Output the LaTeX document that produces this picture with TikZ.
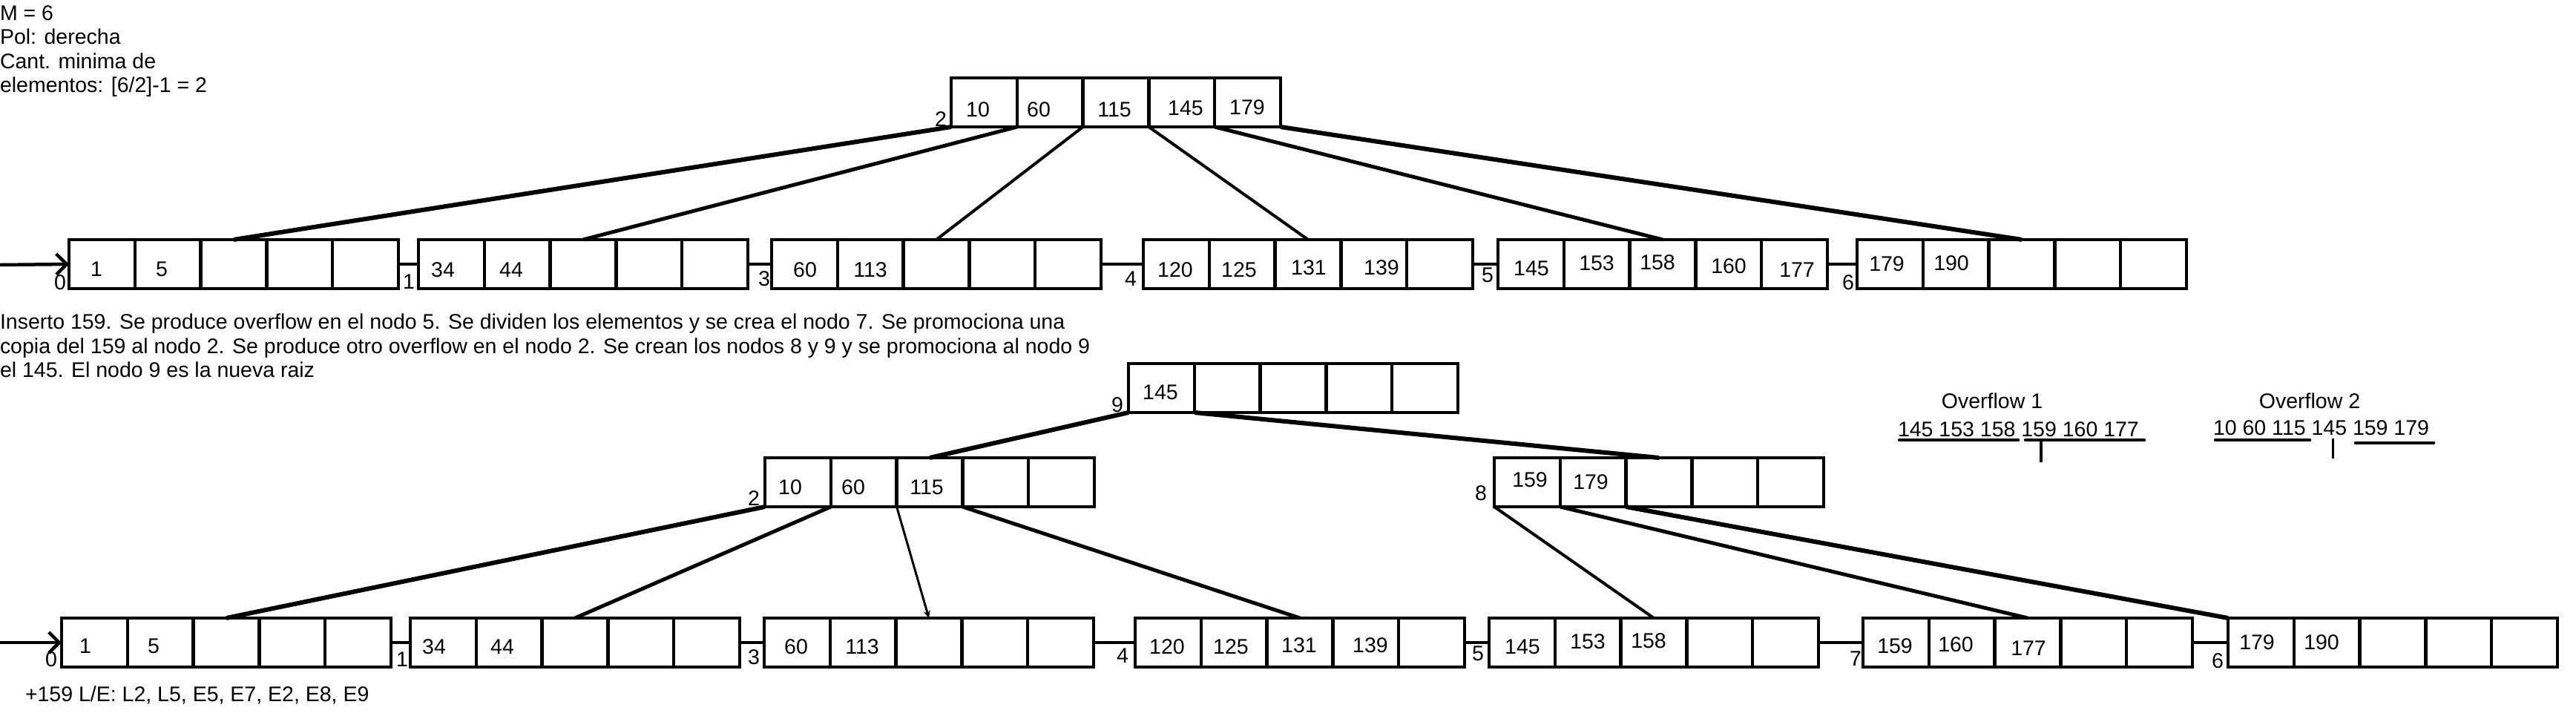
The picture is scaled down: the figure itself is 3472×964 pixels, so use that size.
\documentclass[tikz,border=0pt]{standalone}
\usepackage{fontspec}
\setmainfont{Liberation Sans}
\usetikzlibrary{arrows.meta,calc}
\tikzset{
  bbox/.style={draw, line width=4.6pt, minimum width=444pt, minimum height=66pt, inner sep=0pt, outer sep=0pt, anchor=north west},
  txt/.style={inner sep=0pt, outer sep=0pt, font=\fontsize{28.5pt}{33pt}\selectfont},
  divider/.style={line width=4.3pt},
  link/.style={line width=4.5pt},
  entry/.style={line width=4.5pt, -{Straight Barb[length=14pt,width=28pt]}},
  edgeA/.style={line width=6pt},
  edgeB/.style={line width=5pt},
  edgeC/.style={line width=4pt},
  edgeD/.style={line width=3pt},
  bar/.style={line width=4.5pt, line cap=round},
}
\newcommand{\btnode}[3]{%
  \node[bbox] (#1) at (#2,#3) {};
  \foreach \k in {1,2,3,4}{\draw[divider] ($(#1.north west)+(\k*88.8,0)$) -- ($(#1.south west)+(\k*88.8,0)$);}%
}
\newcommand{\val}[4]{\node[txt, anchor=base] (#1) at (#2,#3) {#4};}
\newcommand{\lft}[4]{\node[txt, anchor=base west] (#1) at (#2,#3) {#4};}
\begin{document}
\begin{tikzpicture}[x=1pt, y=-1pt]
\fill[white] (0,0) rectangle (3472,964);
\useasboundingbox (0,0) rectangle (3472,964);

% ---------- header text ----------
\lft{i1}{0}{27}{M = 6}
\lft{i2}{0}{59}{Pol: derecha}
\lft{i3}{0}{92}{Cant. minima de}
\lft{i4}{0}{124}{elementos: [6/2]-1 = 2}

% ---------- top tree ----------
\btnode{r}{1282}{105}
\btnode{n0}{93}{323}
\btnode{n1}{564}{323}
\btnode{n3}{1040}{323}
\btnode{n4}{1541}{323}
\btnode{n5}{2019}{323}
\btnode{n6}{2503}{323}

\val{r1}{1318}{157}{10}
\val{r2}{1400}{157}{60}
\val{r3}{1502}{157}{115}
\val{r4}{1598}{155}{145}
\val{r5}{1681}{154}{179}
\val{rl}{1268}{170}{2}

\val{n0a}{130}{372}{1}
\val{n0b}{218}{372}{5}
\val{n0l}{81}{390}{0}
\val{n1a}{597}{373}{34}
\val{n1b}{689}{373}{44}
\val{n1l}{551}{389}{1}
\val{n3a}{1085}{373}{60}
\val{n3b}{1173}{373}{113}
\val{n3l}{1030}{385}{3}
\val{n4a}{1584}{373}{120}
\val{n4b}{1670}{373}{125}
\val{n4c}{1764}{370}{131}
\val{n4d}{1862}{370}{139}
\val{n4l}{1524}{385}{4}
\val{n5a}{2064}{371}{145}
\val{n5b}{2152}{364}{153}
\val{n5c}{2234}{363}{158}
\val{n5d}{2330}{368}{160}
\val{n5e}{2422}{373}{177}
\val{n5l}{2005}{380}{5}
\val{n6a}{2543}{365}{179}
\val{n6b}{2630}{364}{190}
\val{n6l}{2491}{390}{6}

\coordinate (in0) at (0,357);
\draw[entry] (in0) -- (n0.west);
\draw[link] (n0.east) -- (n1.west);
\draw[link] (n1.east) -- (n3.west);
\draw[link] (n3.east) -- (n4.west);
\draw[link] (n4.east) -- (n5.west);
\draw[link] (n5.east) -- (n6.west);

\draw[edgeA] (r.south west) -- (n0.north);
\draw[edgeB] ($(r.south west)+(88.8,0)$) -- (n1.north);
\draw[edgeC] ($(r.south west)+(177.6,0)$) -- (n3.north);
\draw[edgeC] ($(r.south west)+(266.4,0)$) -- (n4.north);
\draw[edgeB] ($(r.south west)+(355.2,0)$) -- (n5.north);
\draw[edgeA] (r.south east) -- (n6.north);

% ---------- explanation ----------
\lft{p1}{0}{443}{Inserto 159. Se produce overflow en el nodo 5. Se dividen los elementos y se crea el nodo 7. Se promociona una}
\lft{p2}{0}{476}{copia del 159 al nodo 2. Se produce otro overflow en el nodo 2. Se crean los nodos 8 y 9 y se promociona al nodo 9}
\lft{p3}{0}{508}{el 145. El nodo 9 es la nueva raiz}

% ---------- bottom tree ----------
\btnode{r9}{1521}{490}
\btnode{m2}{1031}{617}
\btnode{m8}{2014}{617}
\btnode{b0}{83}{833}
\btnode{b1}{553}{833}
\btnode{b3}{1030}{833}
\btnode{b4}{1530}{833}
\btnode{b5}{2007}{833}
\btnode{b7}{2511}{833}
\btnode{b6}{3003}{833}

\val{r9a}{1564}{538}{145}
\val{r9l}{1506}{555}{9}
\val{m2a}{1065}{666}{10}
\val{m2b}{1150}{666}{60}
\val{m2c}{1249}{666}{115}
\val{m2l}{1016}{681}{2}
\val{m8a}{2062}{656}{159}
\val{m8b}{2144}{659}{179}
\val{m8l}{1996}{674}{8}

\val{b0a}{115}{880}{1}
\val{b0b}{207}{880}{5}
\val{b0l}{69}{898}{0}
\val{b1a}{585}{881}{34}
\val{b1b}{677}{881}{44}
\val{b1l}{542}{898}{1}
\val{b3a}{1073}{881}{60}
\val{b3b}{1162}{881}{113}
\val{b3l}{1016}{895}{3}
\val{b4a}{1573}{881}{120}
\val{b4b}{1659}{881}{125}
\val{b4c}{1751}{879}{131}
\val{b4d}{1847}{879}{139}
\val{b4l}{1513}{893}{4}
\val{b5a}{2052}{881}{145}
\val{b5b}{2140}{874}{153}
\val{b5c}{2222}{873}{158}
\val{b5l}{1992}{890}{5}
\val{b7a}{2554}{880}{159}
\val{b7b}{2636}{878}{160}
\val{b7c}{2734}{883}{177}
\val{b7l}{2501}{897}{7}
\val{b6a}{3042}{875}{179}
\val{b6b}{3129}{875}{190}
\val{b6l}{2989}{900}{6}

\coordinate (in1) at (0,866);
\draw[entry] (in1) -- (b0.west);
\draw[link] (b0.east) -- (b1.west);
\draw[link] (b1.east) -- (b3.west);
\draw[link] (b3.east) -- (b4.west);
\draw[link] (b4.east) -- (b5.west);
\draw[link] (b5.east) -- (b7.west);
\draw[link] (b7.east) -- (b6.west);

\draw[edgeA] (r9.south west) -- (m2.north);
\draw[edgeA] ($(r9.south west)+(88.8,0)$) -- (m8.north);

\draw[edgeA] (m2.south west) -- (b0.north);
\draw[edgeB] ($(m2.south west)+(88.8,0)$) -- (b1.north);
\draw[edgeD, -{Stealth[length=10pt,width=9pt]}] ($(m2.south west)+(177.6,0)$) -- (b3.north);
\draw[edgeB] ($(m2.south west)+(266.4,0)$) -- (b4.north);

\draw[edgeC] (m8.south west) -- (b5.north);
\draw[edgeB] ($(m8.south west)+(88.8,0)$) -- (b7.north);
\draw[edgeA] ($(m8.south west)+(177.6,0)$) -- (b6.north west);

% ---------- overflow notes ----------
\val{o1}{2685}{550}{Overflow 1}
\lft{o1s}{2558}{588}{145 153 158 159 160 177}
\draw[bar] (2560,593) -- (2720,593);
\draw[bar] (2730,593) -- (2890,593);
\draw[line width=4.5pt] (2751,595) -- (2751,623);
\val{o2}{3113}{550}{Overflow 2}
\lft{o2s}{2983}{586}{10 60 115 145 159 179}
\draw[bar] (2986,593) -- (3113,593);
\draw[bar] (3175,597) -- (3280,597);
\draw[line width=3pt] (3144,591) -- (3144,618);

\lft{le}{34}{945}{+159 L/E: L2, L5, E5, E7, E2, E8, E9}
\end{tikzpicture}
\end{document}
